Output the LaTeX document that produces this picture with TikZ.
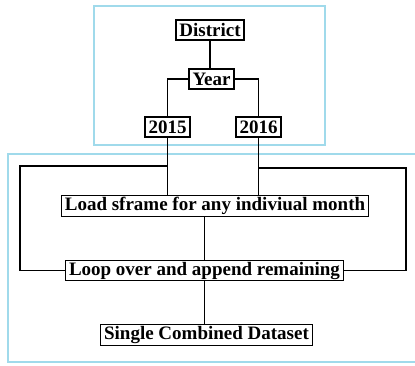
\documentclass[tikz,border=0pt]{standalone}
\usepackage{fontspec}
\setmainfont{Liberation Serif}
\definecolor{frameblue}{RGB}{160,218,235}

\begin{document}
\begin{tikzpicture}[x=1pt,y=-1pt,
  box/.style={draw,line width=1.3pt,inner xsep=3.5pt,inner ysep=1.5pt,minimum height=20pt,
    font=\bfseries\fontsize{19}{20}\selectfont},
  link/.style={line width=1.3pt},
  frame/.style={frameblue,line width=1.5pt}]
\useasboundingbox (0,0) rectangle (415,365);
\draw [frame] (94,6) rectangle (325,145);
\draw [frame] (8,154) rectangle (420,362);
\node (dist) at (210,30) [box]{District};
\node (year) at (211.5,79) [box]{Year};
\node (y15) at (167.5,127) [box]{2015};
\node (y16) at (258.5,127) [box]{2016};
\node (load) at (215,206) [box]{Load sframe for any indiviual month};
\node (loop) at (204.5,270.5) [box]{Loop over and append remaining};
\node (single) at (206.5,335) [box]{Single Combined Dataset};
\coordinate (lft) at (20,166);
\coordinate (rgt) at (406,168);
\draw [link] (dist) -- (dist |- year.north);
\draw [link] (year.west) -| (y15);
\draw [link] (year.east) -| (y16);
\draw [link] (y15) -- (y15 |- load.north);
\draw [link] (y16) -- (y16 |- load.north);
\draw [link] (y15 |- lft) -- (lft) |- (loop.west);
\draw [link] (y16 |- rgt) -- (rgt) |- (loop.east);
\draw [link] (loop |- load.south) -- (loop.north);
\draw [link] (loop.south) -- (loop.south |- single.north);
\end{tikzpicture}
\end{document}
